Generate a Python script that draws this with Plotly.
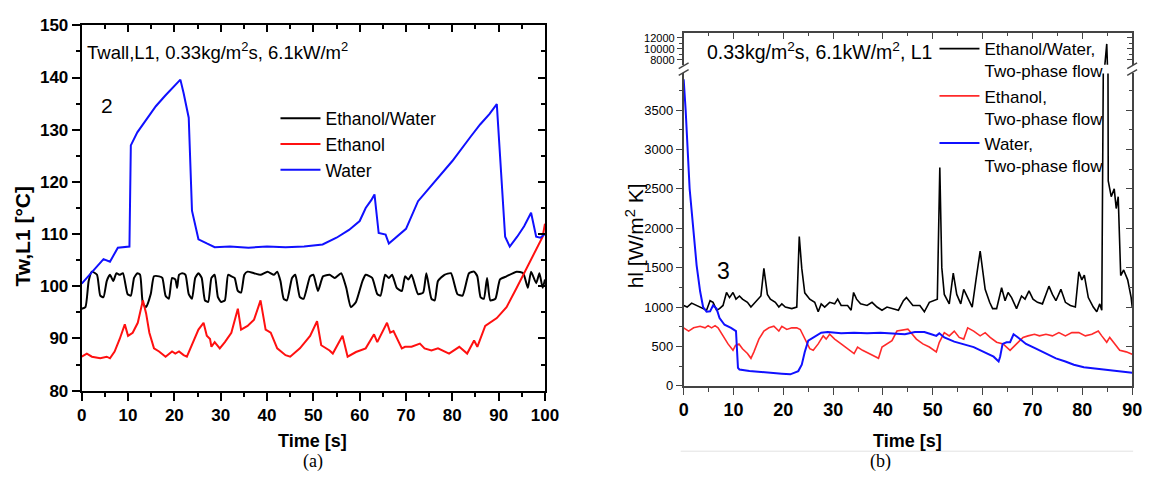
import plotly.graph_objects as go

# ---------------- Panel (a): wall temperature ----------------
a_ew_t = [0.0, 0.8, 1.5, 2.2, 3.3, 4.0, 4.7, 5.4, 6.1, 6.8, 7.5, 8.2, 8.9, 9.9, 10.6, 11.3, 12.0, 12.6,
          13.2, 13.9, 14.9, 15.6, 16.7, 17.4, 18.1, 18.8, 19.5, 20.2, 20.6, 21.0, 21.7, 22.4, 23.1, 23.8,
          24.5, 25.2, 25.9, 26.6, 27.3, 28.0, 28.7, 29.4, 30.1, 30.9, 31.6, 32.3, 33.0, 33.7, 34.4, 35.1,
          35.8, 37.2, 38.6, 40.1, 41.5, 42.2, 42.9, 43.6, 44.3, 45.4, 46.1, 47.1, 47.9, 49.3, 50.0, 51.0,
          52.1, 53.5, 54.6, 56.0, 57.1, 58.1, 59.2, 60.6, 61.3, 62.7, 63.8, 64.5, 65.5, 66.3, 67.0, 68.0,
          69.1, 69.8, 70.5, 71.2, 72.6, 73.7, 74.4, 75.5, 76.2, 76.9, 78.3, 79.7, 81.1, 82.2, 83.6, 84.7,
          85.4, 86.1, 86.8, 87.5, 88.2, 89.3, 90.3, 91.7, 93.9, 95.3, 96.3, 97.0, 98.1, 98.8, 99.5, 100.0]
a_ew_T = [95.7, 96.0, 101.0, 102.8, 102.2, 98.2, 97.9, 101.0, 102.2, 101.0, 102.5, 102.2, 102.5, 98.5,
          98.2, 101.6, 102.5, 102.2, 96.7, 96.0, 98.5, 101.9, 101.9, 101.6, 98.2, 97.6, 101.6, 101.3, 99.7,
          102.2, 102.5, 102.2, 98.5, 97.6, 101.6, 102.5, 101.6, 97.3, 97.0, 101.6, 102.2, 97.9, 97.0, 97.3,
          102.2, 101.9, 101.6, 99.1, 98.8, 102.2, 102.8, 102.5, 102.2, 102.8, 102.2, 102.8, 101.0, 97.6,
          97.3, 101.6, 102.2, 97.9, 97.6, 101.9, 102.2, 99.1, 101.9, 102.2, 101.6, 102.5, 99.7, 96.0, 97.0,
          101.0, 102.2, 101.6, 98.5, 98.2, 102.2, 101.6, 102.2, 99.7, 99.1, 101.9, 101.3, 102.2, 98.5, 98.8,
          102.5, 97.6, 97.3, 101.0, 102.2, 102.5, 98.5, 98.2, 102.5, 102.8, 101.9, 97.9, 97.6, 101.6, 97.3,
          97.6, 101.3, 101.9, 102.8, 102.5, 99.7, 102.8, 100.6, 102.5, 99.7, 101.3]

a_eth_t = [0.0, 1.1, 2.2, 4.0, 5.4, 6.1, 7.1, 8.2, 9.3, 10.0, 11.0, 12.1, 13.2, 13.9, 14.6, 15.6, 16.7,
           18.1, 19.5, 20.2, 21.0, 22.0, 22.7, 24.1, 25.2, 26.3, 27.0, 27.7, 28.0, 28.7, 29.8, 30.9, 32.3,
           33.7, 34.4, 35.8, 37.2, 38.6, 39.7, 40.8, 42.2, 44.0, 45.0, 47.1, 49.3, 50.8, 51.7, 53.5, 54.2,
           56.3, 57.4, 59.2, 61.3, 63.1, 63.8, 65.9, 66.6, 67.3, 69.1, 69.8, 71.2, 73.0, 74.0, 75.5, 76.9,
           79.3, 81.5, 83.2, 84.7, 85.4, 87.1, 89.6, 91.7, 93.9, 96.7, 98.1, 99.5, 100.0]
a_eth_T = [86.5, 87.1, 86.5, 86.2, 86.5, 86.2, 87.5, 89.9, 92.7, 90.5, 91.1, 93.0, 97.3, 94.8, 91.1, 88.1,
           87.5, 86.5, 87.5, 87.1, 87.5, 86.8, 86.5, 89.3, 91.7, 93.0, 90.5, 89.9, 88.4, 89.3, 88.1, 89.3,
           91.1, 95.7, 91.7, 92.4, 93.6, 97.3, 91.7, 91.1, 88.1, 86.8, 86.5, 88.1, 90.5, 93.3, 88.7, 87.7,
           87.1, 90.5, 86.5, 87.4, 88.1, 90.8, 89.3, 93.0, 91.1, 91.4, 88.1, 88.4, 88.4, 89.0, 88.1, 87.7,
           88.1, 87.1, 88.4, 87.1, 89.6, 88.4, 92.4, 93.9, 96.0, 99.7, 104.5, 107.1, 109.5, 112.0]

a_wat_t = [0.0, 1.0, 2.5, 4.7, 6.1, 7.8, 10.3, 10.6, 12.0, 14.0, 16.0, 18.0, 20.0, 21.3, 22.0, 23.1, 23.8,
           25.2, 27.0, 28.7, 32.0, 36.0, 40.0, 44.0, 48.0, 52.0, 55.0, 57.7, 60.0, 61.3, 62.5, 63.2, 64.1,
           65.6, 66.3, 68.0, 70.0, 72.6, 75.0, 77.5, 80.0, 83.9, 86.0, 88.0, 89.6, 91.4, 92.4, 94.0, 95.5,
           97.0, 98.1, 99.0, 100.0]
a_wat_T = [100.5, 101.5, 103.0, 105.2, 104.7, 107.4, 107.6, 127.0, 129.5, 132.0, 134.5, 136.5, 138.3,
           139.6, 137.0, 132.3, 114.5, 109.0, 108.2, 107.5, 107.6, 107.4, 107.6, 107.5, 107.6, 108.0,
           109.3, 110.8, 112.5, 115.0, 116.5, 117.6, 110.2, 109.9, 108.2, 109.5, 111.0, 116.3, 118.8,
           121.3, 124.0, 128.6, 131.0, 133.0, 134.9, 109.5, 107.6, 109.5, 111.5, 114.1, 109.5, 109.3, 110.0]

# ---------------- Panel (b): heat transfer coefficient ----------------
b_ew_t = [0.0, 0.7, 1.6, 2.6, 3.6, 4.6, 5.3, 5.9, 6.6, 7.2, 7.9, 8.6, 9.2, 9.9, 10.5, 11.2, 11.8, 12.8,
          13.5, 14.1, 14.8, 15.5, 16.1, 16.8, 17.4, 18.4, 19.1, 19.7, 20.4, 21.7, 22.7, 23.2, 23.7, 24.3,
          25.3, 26.3, 27.0, 27.6, 28.3, 29.3, 30.3, 30.9, 31.6, 32.9, 33.6, 34.1, 34.7, 35.5, 36.8, 37.8,
          38.8, 39.8, 40.8, 42.1, 43.1, 44.1, 44.7, 46.0, 47.4, 48.3, 49.3, 50.9, 51.4, 51.8, 52.3, 53.3,
          54.1, 54.8, 55.6, 56.2, 57.2, 57.9, 58.7, 59.5, 60.5, 61.4, 62.0, 62.8, 63.8, 64.5, 65.1, 65.8,
          66.8, 67.8, 68.5, 69.3, 70.1, 71.0, 72.0, 73.3, 74.0, 74.7, 75.7, 76.6, 77.6, 78.6, 79.3, 79.9,
          80.4, 81.2, 82.2, 82.9, 83.5, 83.9, 84.9, 85.2, 85.8, 86.4, 86.8, 87.2, 87.7, 88.3, 89.1, 89.8,
          90.0]
b_ew_h = [1020, 1000, 1050, 1020, 980, 960, 1080, 1060, 960, 980, 1020, 1185, 1120, 1185, 1100, 1140,
          1100, 1060, 1000, 1040, 1080, 1140, 1490, 1160, 1100, 1060, 1000, 1040, 1000, 980, 1000, 1895,
          1490, 1180, 1100, 1060, 940, 1040, 1000, 1060, 1040, 1100, 1020, 1020, 960, 1185, 1100, 1040,
          1020, 1060, 1000, 960, 1000, 980, 960, 1080, 1120, 1020, 1020, 940, 1060, 1100, 2770, 1500,
          1160, 1040, 1430, 1160, 1040, 1225, 1080, 1000, 1365, 1710, 1225, 1060, 980, 980, 1245, 1080,
          1185, 1120, 980, 1140, 1100, 1205, 1100, 1060, 1040, 1265, 1160, 1080, 1225, 1060, 1020, 1000,
          1447, 1345, 1405, 1120, 1000, 940, 1040, 960, 10900, 2600, 2400, 2500, 2250, 2400, 1400, 1470,
          1345, 1120, 1000]

b_eth_t = [0.0, 1.0, 2.0, 3.3, 4.3, 4.9, 5.6, 6.3, 6.9, 7.9, 8.9, 9.9, 10.4, 11.1, 11.8, 12.8, 13.5, 14.1,
           15.1, 16.1, 17.1, 18.1, 19.1, 19.7, 20.7, 21.7, 22.7, 23.4, 24.3, 25.3, 26.0, 27.0, 28.0, 28.6,
           29.3, 30.3, 31.6, 32.9, 34.2, 34.9, 35.9, 37.2, 38.5, 39.1, 39.8, 40.8, 41.8, 42.8, 44.1, 45.0,
           46.7, 48.0, 49.3, 50.7, 51.3, 52.3, 53.3, 54.3, 55.3, 56.2, 57.0, 58.2, 59.5, 60.5, 61.5, 62.8,
           64.1, 65.5, 66.8, 68.1, 69.1, 70.4, 71.4, 72.7, 74.0, 75.3, 76.6, 77.9, 79.3, 80.6, 81.9, 83.2,
           83.9, 84.9, 85.5, 86.5, 87.5, 88.8, 89.8, 90.0]
b_eth_h = [736, 695, 736, 756, 736, 764, 736, 764, 736, 634, 532, 451, 512, 532, 471, 410, 349, 431, 593,
           695, 736, 756, 695, 756, 715, 736, 736, 715, 593, 471, 451, 532, 634, 593, 654, 593, 532, 471,
           410, 492, 451, 410, 370, 349, 492, 532, 573, 695, 715, 720, 593, 532, 492, 431, 553, 675, 634,
           695, 614, 593, 736, 695, 634, 675, 614, 553, 532, 451, 532, 614, 634, 654, 634, 654, 634, 675,
           634, 675, 675, 634, 654, 695, 634, 553, 614, 532, 451, 431, 410, 400]

b_wat_t = [0.0, 0.4, 1.2, 2.0, 2.6, 3.3, 3.9, 4.6, 5.3, 5.9, 6.6, 7.2, 8.2, 9.5, 10.5, 10.9, 11.2, 13.2,
           16.4, 19.7, 21.4, 23.0, 23.7, 24.3, 25.0, 26.0, 27.6, 28.9, 31.6, 34.2, 36.8, 39.5, 42.1, 44.4,
           46.4, 48.3, 49.7, 50.7, 51.3, 52.3, 54.3, 56.2, 58.2, 60.2, 62.2, 63.2, 63.5, 64.0, 64.8, 65.5,
           66.2, 67.1, 68.7, 70.7, 72.7, 74.7, 76.6, 78.3, 80.3, 82.6, 85.2, 87.8, 89.8, 90.0]
b_wat_h = [3890, 3500, 2500, 1950, 1530, 1200, 1000, 940, 945, 1020, 980, 860, 775, 735, 695, 227, 207,
           187, 166, 154, 146, 187, 268, 430, 573, 614, 675, 683, 667, 675, 667, 675, 667, 654, 683, 683,
           654, 634, 667, 614, 561, 532, 492, 431, 370, 309, 370, 532, 553, 553, 654, 614, 532, 471, 410,
           349, 309, 268, 235, 219, 195, 178, 166, 165]

a_names = ["Ethanol/Water", "Ethanol", "Water"]
b_names = ["Ethanol/Water,<br>Two-phase flow", "Ethanol,<br>Two-phase flow", "Water,<br>Two-phase flow"]
colors = ["#000000", "#ff1010", "#1010ff"]

W, H = 1156, 491
FONT = "Liberation Sans, Arial, sans-serif"


def fx(px):
    return px / W


def fy(py):
    return 1 - py / H


fig = go.Figure()

# panel (a) traces
for t, v, name, c, shp in [(a_ew_t, a_ew_T, a_names[0], colors[0], "spline"),
                           (a_eth_t, a_eth_T, a_names[1], colors[1], "linear"),
                           (a_wat_t, a_wat_T, a_names[2], colors[2], "linear")]:
    fig.add_trace(go.Scatter(x=t, y=v, mode="lines", name=name,
                             line=dict(color=c, width=2, shape=shp, smoothing=0.5),
                             xaxis="x", yaxis="y", legend="legend"))

# panel (b) traces (lower part of broken axis)
for t, v, name, c, w in [(b_ew_t, b_ew_h, b_names[0], colors[0], 1.6),
                         (b_eth_t, b_eth_h, b_names[1], "#ff2a2a", 1.6),
                         (b_wat_t, b_wat_h, b_names[2], colors[2], 2)]:
    fig.add_trace(go.Scatter(x=t, y=v, mode="lines", name=name, line=dict(color=c, width=w),
                             xaxis="x3", yaxis="y3", legend="legend2"))
# upper part of broken axis (same black series)
fig.add_trace(go.Scatter(x=b_ew_t, y=b_ew_h, mode="lines", showlegend=False,
                         line=dict(color=colors[0], width=1.6), xaxis="x3", yaxis="y4"))

# empty traces so that the mirrored frame axes (top / right) get drawn
for xa, ya in [("x2", "y"), ("x", "y2"), ("x4", "y4"), ("x3", "y5"), ("x3", "y6")]:
    fig.add_trace(go.Scatter(x=[], y=[], mode="lines", showlegend=False, hoverinfo="skip",
                             xaxis=xa, yaxis=ya))

axc = dict(showgrid=False, zeroline=False, showline=True)
LA = "#000000"
LB = "#444444"
BOLD = "bold"

fig.update_layout(
    width=W, height=H, margin=dict(l=0, r=0, t=0, b=0),
    paper_bgcolor="white", plot_bgcolor="white",
    font=dict(family=FONT, color="black"),
    # ---- panel (a)
    xaxis=dict(domain=[fx(78), fx(549)], range=[0, 100], anchor="y", tickmode="linear", tick0=0, dtick=10,
               ticks="outside", ticklen=8, tickwidth=1.5, tickcolor=LA, linecolor=LA, linewidth=2,
               tickfont=dict(size=17, weight=BOLD), minor=dict(dtick=5, ticks="outside", ticklen=4,
                                                               tickwidth=1.5, tickcolor=LA), **axc),
    xaxis2=dict(overlaying="x", anchor="y", side="top", range=[0, 100], tickmode="linear", tick0=0, dtick=10,
                ticks="inside", ticklen=7, tickwidth=1.5, tickcolor=LA, linecolor=LA, linewidth=2,
                showticklabels=False, minor=dict(dtick=5, ticks="inside", ticklen=4, tickwidth=1.5,
                                                 tickcolor=LA), **axc),
    yaxis=dict(domain=[fy(397), fy(17)], range=[80, 150], anchor="x", tickmode="linear", tick0=80, dtick=10,
               ticks="outside", ticklen=8, tickwidth=1.5, tickcolor=LA, linecolor=LA, linewidth=2,
               tickfont=dict(size=17, weight=BOLD), minor=dict(dtick=5, ticks="outside", ticklen=4,
                                                               tickwidth=1.5, tickcolor=LA), **axc),
    yaxis2=dict(overlaying="y", anchor="x", side="right", range=[80, 150], tickmode="linear", tick0=80,
                dtick=10, ticks="inside", ticklen=7, tickwidth=1.5, tickcolor=LA, linecolor=LA, linewidth=2,
                showticklabels=False, minor=dict(dtick=5, ticks="inside", ticklen=4, tickwidth=1.5,
                                                 tickcolor=LA), **axc),
    # ---- panel (b)
    xaxis3=dict(domain=[fx(690), fx(1146)], range=[0, 90], anchor="y3", tickmode="linear", tick0=0, dtick=10,
                ticks="outside", ticklen=7, tickwidth=1.2, tickcolor=LB, linecolor=LB, linewidth=1.6,
                tickfont=dict(size=18, weight=BOLD), minor=dict(dtick=5, ticks="outside", ticklen=4,
                                                                tickwidth=1.2, tickcolor=LB), **axc),
    xaxis4=dict(overlaying="x3", anchor="y4", side="top", range=[0, 90], tickmode="linear", tick0=0, dtick=10,
                ticks="inside", ticklen=6, tickwidth=1.2, tickcolor=LB, linecolor=LB, linewidth=1.6,
                showticklabels=False, minor=dict(dtick=5, ticks="inside", ticklen=3, tickwidth=1.2,
                                                 tickcolor=LB), **axc),
    yaxis3=dict(domain=[fy(392), fy(67)], range=[0, 3965], anchor="x3", tickmode="linear", tick0=0, dtick=500,
                ticks="outside", ticklen=6, tickwidth=1.2, tickcolor=LB, linecolor=LB, linewidth=1.6,
                tickformat="d", tickfont=dict(size=13),
                minor=dict(dtick=250, ticks="outside", ticklen=3, tickwidth=1.2, tickcolor=LB), **axc),
    yaxis5=dict(overlaying="y3", anchor="x3", side="right", range=[0, 3965], tickmode="linear", tick0=0,
                dtick=500, ticks="inside", ticklen=6, tickwidth=1.2, tickcolor=LB, linecolor=LB, linewidth=1.6,
                showticklabels=False, minor=dict(dtick=250, ticks="inside", ticklen=3, tickwidth=1.2,
                                                 tickcolor=LB), **axc),
    yaxis4=dict(domain=[fy(58), fy(25)], range=[7130, 12870], anchor="x3", tickvals=[8000, 10000, 12000],
                ticks="outside", ticklen=5, tickwidth=1.2, tickcolor=LB, linecolor=LB, linewidth=1.6,
                tickformat="d", tickfont=dict(size=11),
                minor=dict(tickvals=[9000, 11000], ticks="outside", ticklen=3, tickwidth=1.2, tickcolor=LB),
                **axc),
    yaxis6=dict(overlaying="y4", anchor="x3", side="right", range=[7130, 12870], tickvals=[8000, 10000, 12000],
                ticks="inside", ticklen=5, tickwidth=1.2, tickcolor=LB, linecolor=LB, linewidth=1.6,
                showticklabels=False, minor=dict(tickvals=[9000, 11000], ticks="inside", ticklen=3,
                                                 tickwidth=1.2, tickcolor=LB), **axc),
    legend=dict(x=fx(275), y=fy(95), xanchor="left", yanchor="top", bgcolor="rgba(0,0,0,0)",
                font=dict(size=17.5, family=FONT), itemwidth=40, tracegroupgap=0),
    legend2=dict(x=fx(945), y=fy(23), xanchor="left", yanchor="top", bgcolor="rgba(0,0,0,0)",
                 font=dict(size=17, family=FONT), itemwidth=40, valign="top", tracegroupgap=0),
)

# broken-axis marks and a faint rule under panel (b)
shapes = []
for xc in (690, 1146):
    for yc in (59, 66):
        shapes.append(dict(type="line", xref="paper", yref="paper", x0=fx(xc - 5), y0=fy(yc + 3),
                           x1=fx(xc + 5), y1=fy(yc - 3), line=dict(color=LB, width=1.4)))
shapes.append(dict(type="line", xref="paper", yref="paper", x0=fx(687), y0=fy(460), x1=fx(1147), y1=fy(460),
                   line=dict(color="#e2e2e2", width=1)))
fig.update_layout(shapes=shapes)

ann = [
    dict(text="Twall,L1, 0.33kg/m<sup>2</sup>s, 6.1kW/m<sup>2</sup>", x=fx(81), y=fy(44), xanchor="left",
         yanchor="middle", font=dict(size=18.5)),
    dict(text="2", x=fx(104), y=fy(100), xanchor="center", yanchor="middle", font=dict(size=21)),
    dict(text="<b>Tw,L1 [°C]</b>", x=fx(18), y=fy(236), textangle=-90, xanchor="center", yanchor="middle",
         font=dict(size=21)),
    dict(text="<b>Time [s]</b>", x=fx(313), y=fy(449), xanchor="center", yanchor="middle", font=dict(size=18)),
    dict(text="(a)", x=fx(313), y=fy(471), xanchor="center", yanchor="middle",
         font=dict(size=18, family="Liberation Serif, Times New Roman, serif")),
    dict(text="0.33kg/m<sup>2</sup>s, 6.1kW/m<sup>2</sup>, L1", x=fx(712), y=fy(44), xanchor="left",
         yanchor="middle", font=dict(size=19.5)),
    dict(text="3", x=fx(730), y=fy(273), xanchor="center", yanchor="middle", font=dict(size=23)),
    dict(text="hl [W/m<sup>2</sup> K]", x=fx(640), y=fy(236), textangle=-90, xanchor="center",
         yanchor="middle", font=dict(size=21)),
    dict(text="<b>Time [s]</b>", x=fx(918), y=fy(449), xanchor="center", yanchor="middle", font=dict(size=18)),
    dict(text="(b)", x=fx(890), y=fy(471), xanchor="center", yanchor="middle",
         font=dict(size=18, family="Liberation Serif, Times New Roman, serif")),
]
for a in ann:
    a.update(xref="paper", yref="paper", showarrow=False)
fig.update_layout(annotations=ann)

fig.write_html("out.html")
